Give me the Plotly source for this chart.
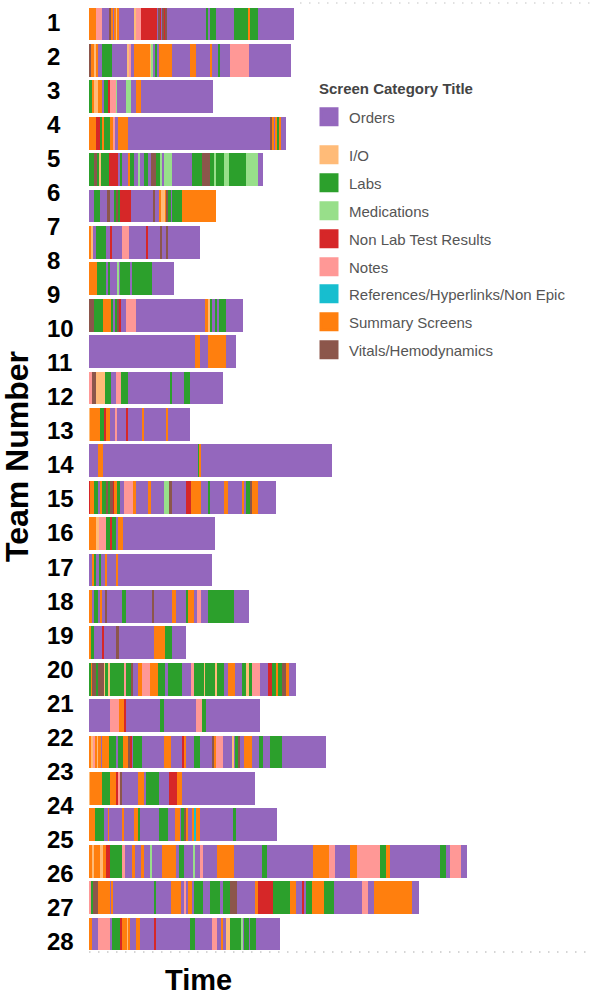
import plotly.graph_objects as go

# ---------------- data ----------------
team_numbers = list(range(1, 29))          # y tick labels shown on the left
category_names = ["Orders", "I/O", "Labs", "Medications", "Non Lab Test Results", "Notes",
                  "References/Hyperlinks/Non Epic", "Summary Screens", "Vitals/Hemodynamics"]
category_codes = ["O", "IO", "L", "M", "N", "NT", "R", "S", "V"]
category_colors = ["#9467BD", "#FFBB78", "#2CA02C", "#98DF8A", "#D62728", "#FF9896",
                   "#17BECF", "#FF7F0E", "#8C564B"]

# each session: (screen category, time at which that screen was left)
bar_01 = [("S",22),("NT",39),("O",62),("V",66),("S",72),("O",76),("S",80),("IO",84),("S",90),("O",134),("IO",140),("NT",157),("N",204),("O",207),("V",212),("N",216),("O",220),("V",224),("N",228),("V",232),("O",350),("L",358),("O",364),("L",382),("O",434),("L",477),("S",482),("L",507),("O",614)]
bar_02 = [("V",6),("S",14),("IO",22),("S",28),("O",38),("L",68),("O",114),("IO",120),("NT",126),("O",134),("S",182),("IO",186),("M",190),("O",198),("L",204),("O",210),("S",250),("O",304),("S",322),("O",364),("S",368),("O",386),("L",394),("O",422),("NT",479),("O",607)]
bar_03 = [("L",10),("S",16),("IO",26),("S",38),("O",44),("L",56),("N",62),("L",64),("NT",80),("M",84),("O",112),("M",126),("O",142),("S",156),("O",372)]
bar_04 = [("S",22),("N",32),("L",38),("S",46),("L",62),("S",72),("NT",78),("O",86),("S",118),("O",544),("V",548),("S",554),("O",558),("S",564),("L",572),("S",576),("O",590)]
bar_05 = [("L",14),("V",24),("L",30),("IO",36),("L",59),("N",86),("O",94),("L",98),("O",118),("S",124),("L",136),("O",149),("M",153),("O",164),("L",176),("O",186),("V",200),("L",214),("M",220),("O",226),("M",248),("O",308),("L",338),("V",364),("L",376),("M",380),("L",406),("M",420),("L",472),("M",506),("O",522)]
bar_06 = [("O",14),("L",32),("O",54),("V",64),("O",76),("L",82),("V",88),("L",94),("N",126),("O",192),("V",196),("O",210),("S",214),("IO",228),("S",232),("V",238),("L",246),("O",250),("L",278),("S",382)]
bar_07 = [("S",6),("IO",12),("O",20),("L",52),("O",62),("N",68),("O",98),("NT",120),("O",170),("N",176),("O",214),("V",220),("O",232),("V",238),("O",334)]
bar_08 = [("S",24),("L",52),("O",58),("L",64),("O",84),("M",88),("O",94),("L",124),("O",128),("L",190),("O",254)]
bar_09 = [("V",14),("L",42),("S",66),("L",72),("O",78),("L",86),("V",90),("N",96),("O",110),("NT",142),("O",348),("S",356),("IO",362),("L",370),("O",378),("L",384),("O",390),("L",412),("O",462)]
bar_10 = [("O",318),("S",332),("O",358),("S",412),("O",440)]
bar_11 = [("NT",10),("V",22),("IO",48),("L",66),("O",82),("NT",96),("L",118),("O",242),("L",248),("O",284),("L",304),("O",402)]
bar_12 = [("IO",4),("S",32),("L",44),("N",50),("S",64),("O",80),("NT",84),("O",112),("N",116),("O",160),("S",166),("O",230),("S",238),("O",302)]
bar_13 = [("O",26),("S",42),("O",328),("L",332),("S",336),("O",730)]
bar_14 = [("N",4),("S",16),("L",26),("O",32),("S",38),("L",52),("V",58),("L",64),("V",72),("N",76),("S",84),("L",92),("O",104),("NT",132),("S",142),("O",176),("S",186),("O",224),("M",240),("V",248),("O",292),("N",306),("S",336),("O",356),("L",364),("O",406),("S",418),("O",458),("S",464),("O",472),("L",482),("V",488),("S",506),("O",560)]
bar_15 = [("S",20),("IO",30),("NT",52),("L",62),("N",70),("L",80),("O",88),("S",102),("O",377)]
bar_16 = [("O",10),("S",14),("L",20),("O",30),("L",36),("O",50),("S",54),("O",80),("S",88),("O",370)]
bar_17 = [("S",10),("O",16),("L",26),("O",32),("S",40),("O",48),("V",52),("O",100),("L",112),("O",188),("V",194),("O",248),("S",262),("O",290),("L",296),("S",314),("O",324),("NT",336),("O",356),("L",434),("O",480)]
bar_18 = [("S",6),("L",16),("O",38),("N",44),("O",82),("V",90),("O",194),("S",228),("L",250),("O",292)]
bar_19 = [("L",6),("S",10),("V",22),("L",28),("V",44),("IO",48),("L",58),("IO",62),("L",104),("NT",112),("L",128),("V",132),("O",148),("S",158),("NT",182),("S",208),("L",228),("O",238),("L",278),("O",306),("NT",316),("L",344),("IO",348),("L",378),("IO",384),("L",404),("O",416),("S",438),("O",460),("L",472),("IO",480),("L",488),("NT",512),("O",538),("N",548),("L",562),("S",568),("L",580),("V",592),("S",600),("O",622)]
bar_20 = [("O",64),("NT",90),("S",106),("N",110),("O",212),("L",224),("O",320),("NT",338),("L",352),("O",512)]
bar_21 = [("S",4),("IO",14),("NT",18),("S",22),("IO",26),("S",36),("O",40),("S",60),("L",80),("O",86),("L",102),("S",118),("V",122),("N",128),("O",132),("L",160),("O",226),("S",246),("O",280),("N",286),("S",292),("O",314),("L",334),("O",370),("V",374),("S",380),("NT",402),("O",430),("IO",434),("O",438),("L",448),("V",454),("O",466),("S",488),("O",510),("L",522),("O",544),("L",580),("O",712)]
bar_22 = [("IO",4),("S",40),("L",64),("S",82),("N",88),("NT",92),("V",100),("O",148),("S",164),("O",170),("L",210),("O",240),("N",264),("S",280),("O",497)]
bar_23 = [("S",18),("L",44),("O",58),("S",60),("O",98),("S",104),("O",134),("S",148),("L",152),("O",210),("L",236),("O",258),("S",272),("O",276),("L",286),("V",292),("S",298),("O",310),("S",316),("R",320),("S",334),("O",432),("L",442),("O",565)]
bar_24 = [("S",10),("IO",16),("S",34),("IO",42),("S",50),("N",62),("L",98),("NT",108),("O",128),("S",138),("O",156),("S",164),("O",182),("M",188),("O",220),("S",260),("O",270),("L",284),("O",314),("M",318),("O",332),("NT",342),("O",384),("S",434),("O",520),("L",534),("O",672),("S",720),("NT",738),("O",784),("S",804),("NT",874),("L",890),("S",904),("O",1054),("L",1070),("O",1082),("NT",1116),("O",1134)]
bar_25 = [("NT",6),("L",12),("V",28),("S",62),("O",66),("S",72),("O",196),("L",200),("O",246),("S",276),("O",284),("NT",290),("O",298),("S",310),("O",316),("L",342),("O",364),("L",392),("O",402),("L",422),("V",444),("O",498),("S",508),("N",552),("L",604),("S",620),("O",640),("N",646),("O",652),("L",670),("S",706),("L",734),("O",818),("NT",836),("O",856),("S",968),("O",990)]
bar_26 = [("S",8),("O",28),("NT",64),("O",68),("L",94),("N",98),("S",114),("IO",118),("S",124),("O",142),("S",152),("O",196),("N",200),("O",304),("L",318),("O",370),("NT",384),("O",396),("S",402),("O",412),("IO",424),("L",456),("M",462),("O",466),("L",480),("O",484),("L",500),("O",572)]

sessions = [bar_01, bar_02, bar_03, bar_04, bar_05, bar_06, bar_07, bar_08, bar_09, bar_10,
            bar_11, bar_12, bar_13, bar_14, bar_15, bar_16, bar_17, bar_18, bar_19, bar_20,
            bar_21, bar_22, bar_23, bar_24, bar_25, bar_26]

# ---------------- build segments ----------------
seg = {c: {"y": [], "base": [], "x": []} for c in category_codes}
for row, session in enumerate(sessions, start=1):
    start = 0
    for code, end in session:
        seg[code]["y"].append(row)
        seg[code]["base"].append(start)
        seg[code]["x"].append(end - start)
        start = end

FONT = "Liberation Sans, Arial, sans-serif"
W, H = 591, 999
ML, MR, MT, MB = 40, 0, 3, 47
plot_left = 89
pw = W - ML - MR
ph = H - MT - MB


def px_x(px):
    return (px - ML) / pw


def px_y(py):
    return (H - MB - py) / ph


fig = go.Figure()
for code, name, color in zip(category_codes, category_names, category_colors):
    d = seg[code]
    fig.add_trace(go.Bar(
        y=d["y"], x=d["x"], base=d["base"], orientation="h", name=name,
        marker=dict(color=color, line=dict(width=0)), width=0.905,
        legendgroup=name, showlegend=False,
        hovertemplate=name + "<extra></extra>"))

# legend entries (one small legend per entry so the spacing matches the original)
legend_rows_px = [117, 155, 183, 211, 239, 267, 294, 322, 350]
leg_layout = {}
for i, (name, color, ypx) in enumerate(zip(category_names, category_colors, legend_rows_px)):
    key = "legend" if i == 0 else f"legend{i+1}"
    fig.add_trace(go.Scatter(
        x=[None], y=[None], mode="markers", name=name, legendgroup=name,
        legend=key, showlegend=True,
        marker=dict(symbol="square", size=16, color=color, line=dict(width=3, color=color))))
    leg_layout[key] = dict(x=px_x(309), xanchor="left", y=px_y(ypx), yanchor="middle",
                           bgcolor="rgba(0,0,0,0)", borderwidth=0,
                           font=dict(family=FONT, size=15, color="#555555"))

# invisible trace so the team-number axis is drawn
fig.add_trace(go.Scatter(x=[None], y=[None], yaxis="y2", showlegend=False, hoverinfo="skip"))

fig.update_layout(
    width=W, height=H,
    margin=dict(l=ML, r=MR, t=MT, b=MB, autoexpand=False),
    paper_bgcolor="white", plot_bgcolor="white",
    barmode="overlay", bargap=0,
    showlegend=True,
    xaxis=dict(domain=[px_x(plot_left), 1], range=[0, 1506], visible=False, fixedrange=True),
    yaxis=dict(range=[26.495, 0.423], showticklabels=False, showgrid=False,
               zeroline=False, showline=False, ticks="", automargin=False),
    yaxis2=dict(overlaying="y", side="left", anchor="free", position=px_x(43),
                ticklabelposition="inside", ticklabeloverflow="allow", automargin=False,
                range=[28.308, 0.427], tickmode="array", tickvals=team_numbers,
                ticktext=[str(t) for t in team_numbers],
                showgrid=False, zeroline=False, showline=False, ticks="",
                tickfont=dict(family=FONT, size=24, color="black", weight="bold")),
    annotations=[
        dict(text="<b>Team Number</b>", xref="paper", yref="paper",
             x=px_x(17), y=px_y(457), textangle=-90,
             showarrow=False, xanchor="center", yanchor="middle",
             font=dict(family=FONT, size=32, color="black")),
        dict(text="<b>Time</b>", xref="paper", yref="paper",
             x=px_x(198), y=px_y(980),
             showarrow=False, xanchor="center", yanchor="middle",
             font=dict(family=FONT, size=29, color="black")),
        dict(text="<b>Screen Category Title</b>", xref="paper", yref="paper",
             x=px_x(317), y=px_y(88), showarrow=False, xanchor="left", yanchor="middle",
             font=dict(family=FONT, size=15, color="#444444")),
    ],
    shapes=[
        dict(type="line", xref="paper", yref="paper", x0=px_x(plot_left), x1=1, y0=0, y1=0,
             line=dict(color="#c8c8c8", width=1.5, dash="1.5px,7.5px"), layer="below"),
        dict(type="line", xref="paper", yref="paper", x0=px_x(300), x1=1, y0=1, y1=1,
             line=dict(color="#d8d8d8", width=1.5, dash="1.5px,7.5px"), layer="below"),
    ],
    **leg_layout,
)

fig.write_html("out.html", config={"displayModeBar": False},
               post_script="document.body.style.margin='0px';document.body.style.overflow='hidden';")
